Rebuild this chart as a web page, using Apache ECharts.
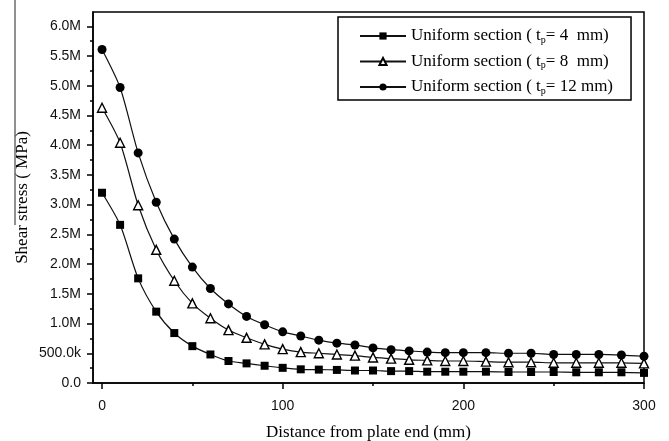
<!DOCTYPE html>
<html>
<head>
<meta charset="utf-8">
<script src="https://cdn.jsdelivr.net/npm/echarts@6/dist/echarts.min.js"></script>
<style>
html,body{margin:0;padding:0;background:#fff;}
#chart{width:669px;height:441px;}
</style>
</head>
<body>
<div id="chart"></div>
<script>
// Distance from plate end (mm)
var distances = [0, 10, 20, 30, 40, 50, 60, 70, 80, 90, 100, 110, 120, 130, 140, 150, 160, 170, 180, 190, 200,
                 212.5, 225, 237.5, 250, 262.5, 275, 287.5, 300];
// Shear stress values (in M)
var tp4 = [3.20, 2.66, 1.76, 1.20, 0.84, 0.62, 0.48, 0.37, 0.33, 0.29, 0.255, 0.23, 0.225, 0.22, 0.21, 0.21, 0.20, 0.20, 0.19, 0.19, 0.19,
           0.19, 0.185, 0.185, 0.185, 0.18, 0.18, 0.18, 0.17];
var tp8 = [4.63, 4.04, 2.99, 2.24, 1.72, 1.34, 1.09, 0.89, 0.76, 0.65, 0.57, 0.52, 0.50, 0.48, 0.46, 0.43, 0.41, 0.39, 0.38, 0.37, 0.37,
           0.36, 0.35, 0.35, 0.34, 0.34, 0.34, 0.34, 0.33];
var tp12 = [5.61, 4.97, 3.87, 3.04, 2.42, 1.95, 1.59, 1.33, 1.12, 0.98, 0.86, 0.79, 0.72, 0.67, 0.64, 0.59, 0.56, 0.54, 0.52, 0.51, 0.51,
            0.51, 0.50, 0.50, 0.48, 0.48, 0.48, 0.47, 0.45];
var thicknessLabels = ['4 ', '8 ', '12'];
var seriesNames = ['Uniform section ( tp= 4  mm)', 'Uniform section ( tp= 8  mm)', 'Uniform section ( tp= 12 mm)'];
var xMajorTicks = [0, 100, 200, 300];
var xMinorTicks = [50, 150, 250];
var yMajorTicks = [0, 0.5, 1.0, 1.5, 2.0, 2.5, 3.0, 3.5, 4.0, 4.5, 5.0, 5.5, 6.0];
var yMinorTicks = [0.25, 0.75, 1.25, 1.75, 2.25, 2.75, 3.25, 3.75, 4.25, 4.75, 5.25, 5.75];

function pairs(xs, ys) { return xs.map(function (x, i) { return [x, ys[i]]; }); }

var SERIF = '"Liberation Serif", "Times New Roman", serif';
var SANS = '"Liberation Sans", Arial, sans-serif';

function yFmt(v) {
  if (v === 0) return '0.0';
  if (v < 1) return (v * 1000).toFixed(1) + 'k';
  return v.toFixed(1) + 'M';
}

var chart = echarts.init(document.getElementById('chart'), null, {renderer: 'canvas'});

var baseSeries = function (name, data, symbol, size, fill) {
  return {
    name: name, type: 'line', data: data, smooth: 0.25,
    xAxisIndex: 0, yAxisIndex: 0,
    symbol: symbol, symbolSize: size, showAllSymbol: true,
    lineStyle: {color: '#111', width: 1.2},
    itemStyle: {color: fill, borderColor: '#000', borderWidth: fill === '#fff' ? 1.4 : 0},
    emphasis: {disabled: true}, z: 3
  };
};

var option = {
  animation: false,
  backgroundColor: '#fff',
  grid: {left: 93, top: 12, right: 25, bottom: 58, show: true, borderColor: '#000', borderWidth: 1.5,
         containLabel: false, outerBoundsMode: 'none'},
  legend: {
    orient: 'vertical', left: 338, top: 17,
    padding: [10, 18, 4, 21],
    itemGap: 7.5, itemWidth: 46, itemHeight: 9,
    borderColor: '#000', borderWidth: 1.5, backgroundColor: '#fff',
    data: seriesNames,
    formatter: function (name) {
      var i = seriesNames.indexOf(name);
      return '{a|Uniform section ( t}{sub|p}{a|= ' + thicknessLabels[i] + ' mm)}';
    },
    textStyle: {
      rich: {
        a: {fontFamily: SERIF, fontSize: 17, color: '#000', lineHeight: 17},
        sub: {fontFamily: SERIF, fontSize: 10, color: '#000', lineHeight: 10, padding: [8, 0, 0, 0]}
      }
    }
  },
  xAxis: [{
    type: 'value', min: -5, max: 300, position: 'bottom',
    name: 'Distance from plate end (mm)', nameLocation: 'middle', nameGap: 41, nameMoveOverlap: false,
    nameTextStyle: {fontFamily: SERIF, fontSize: 17, color: '#000'},
    axisLine: {onZero: false, lineStyle: {color: '#000', width: 1.5}},
    axisTick: {show: true, inside: false, length: 6, customValues: xMajorTicks, lineStyle: {color: '#000', width: 1.5}},
    axisLabel: {customValues: xMajorTicks, margin: 16, fontFamily: SANS, fontSize: 14, color: '#111'},
    splitLine: {show: false}
  }, {
    type: 'value', min: -5, max: 300, position: 'bottom',
    axisLine: {show: false, onZero: false},
    axisTick: {show: true, length: 3, customValues: xMinorTicks, lineStyle: {color: '#000', width: 1.5}},
    axisLabel: {show: false},
    splitLine: {show: false}
  }],
  yAxis: [{
    type: 'value', min: 0, max: 6.24, position: 'left',
    name: 'Shear stress ( MPa)', nameLocation: 'middle', nameGap: 62, nameMoveOverlap: false,
    nameTextStyle: {fontFamily: SERIF, fontSize: 17, color: '#000'},
    axisLine: {show: true, onZero: false, lineStyle: {color: '#000', width: 1.5}},
    axisTick: {show: true, length: 6, customValues: yMajorTicks, lineStyle: {color: '#000', width: 1.5}},
    axisLabel: {customValues: yMajorTicks, margin: 12, fontFamily: SANS, fontSize: 14, color: '#111', formatter: yFmt},
    splitLine: {show: false}
  }, {
    type: 'value', min: 0, max: 6.24, position: 'left',
    axisLine: {show: false, onZero: false},
    axisTick: {show: true, length: 3, customValues: yMinorTicks, lineStyle: {color: '#000', width: 1.5}},
    axisLabel: {show: false},
    splitLine: {show: false}
  }],
  graphic: [{
    type: 'line', shape: {x1: 15, y1: 0, x2: 15, y2: 225},
    style: {stroke: '#222', lineWidth: 1}, silent: true
  }],
  series: [
    baseSeries(seriesNames[0], pairs(distances, tp4), 'rect', 8, '#000'),
    baseSeries(seriesNames[1], pairs(distances, tp8), 'triangle', 9, '#fff'),
    baseSeries(seriesNames[2], pairs(distances, tp12), 'circle', 9, '#000')
  ]
};
chart.setOption(option);
</script>
</body>
</html>
